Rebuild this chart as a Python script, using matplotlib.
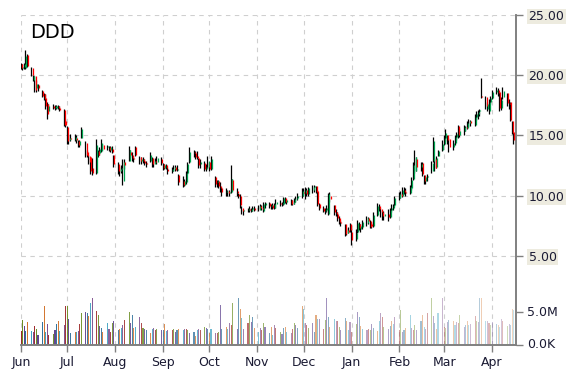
#!/usr/bin/env python3
"""DDD daily candles with volume bars, Jun 2015 - Apr 2016."""

import matplotlib
matplotlib.use("Agg")
import matplotlib.pyplot as plt
import matplotlib.dates as mdates
import matplotlib.transforms as mtransforms
from matplotlib.colors import to_rgba
import numpy as np
import pandas as pd

# trading days (business days Jun 1 2015 .. Apr 15 2016)
dates = pd.bdate_range("2015-06-01", "2016-04-15")

opens = [
    # Jun
    20.9, 20.6, 20.7, 20.6, 21.7, 20.6, 19.6, 19.9, 18.9, 19.2, 18.7, 18.4, 18.1, 17.6, 17.0, 17.4,
    17.3, 17.3, 17.4, 17.3, 17.1, 16.2,
    # Jul
    15.7, 14.6, 14.8, 14.6, 14.8, 14.5, 14.2, 14.8, 14.4, 13.6, 13.3, 13.2, 12.3, 11.9, 13.7, 13.5,
    13.7, 14.2, 14.0, 14.0, 13.8, 13.9, 13.4,
    # Aug
    12.6, 12.0, 12.2, 11.2, 12.8, 12.9, 13.6, 13.4, 13.1, 14.0, 13.2, 12.9, 13.0, 12.9, 12.7, 12.9,
    13.1, 12.6, 12.9, 12.8, 13.0,
    # Sep
    12.6, 12.3, 12.5, 12.2, 12.0, 12.2, 12.4, 12.1, 11.7, 11.2, 10.9, 11.1, 11.9, 12.8, 13.6, 13.5,
    13.3, 13.1, 12.6, 12.7, 12.2, 12.4,
    # Oct
    12.8, 12.2, 11.5, 11.1, 11.2, 10.8, 10.6, 10.3, 10.4, 10.2, 10.3, 11.3, 10.4, 10.1, 10.0, 9.0,
    8.7, 8.8, 8.9, 8.7, 8.9, 9.0,
    # Nov
    8.8, 9.1, 9.0, 8.7, 9.2, 9.4, 9.1, 9.2, 9.0, 9.3, 9.4, 9.3, 9.3, 9.8, 9.5, 9.6,
    9.3, 9.5, 9.7, 9.8, 10.0,
    # Dec
    10.3, 10.2, 10.5, 10.1, 10.5, 10.7, 10.8, 10.4, 9.3, 9.0, 8.7, 8.8, 8.5, 10.0, 9.2, 8.6,
    8.5, 8.1, 7.8, 7.6, 6.9, 7.1, 7.6,
    # Jan
    7.0, 6.4, 7.0, 7.6, 7.2, 7.4, 7.7, 8.1, 7.9, 7.6, 7.5, 8.4, 9.1, 8.9, 8.6, 8.3,
    8.5, 8.2, 8.8, 9.0, 9.2,
    # Feb
    9.8, 10.1, 10.0, 10.5, 10.3, 10.2, 10.6, 11.4, 12.0, 13.0, 12.4, 12.7, 11.7, 11.2, 11.5, 12.0,
    12.9, 13.0, 12.4, 13.3, 13.8,
    # Mar
    14.3, 14.8, 15.0, 14.7, 14.0, 14.4, 14.9, 15.8, 15.0, 15.4, 15.7, 15.6, 16.0, 16.2, 15.9, 16.5,
    16.8, 17.0, 18.3, 18.2, 17.2, 17.0, 17.8,
    # Apr
    18.1, 18.6, 18.8, 18.6, 17.3, 18.2, 18.5, 17.7, 17.8, 16.2, 15.3,
]

highs = [
    21.0, 20.9, 21.0, 22.1, 21.8, 20.7, 20.0, 19.9, 19.6, 19.3, 18.75, 18.5, 18.4, 17.75, 17.6, 17.6,
    17.5, 17.5, 17.5, 17.4, 17.2, 16.4,
    15.75, 15.0, 15.1, 15.1, 15.0, 14.6, 14.6, 15.7, 14.5, 13.8, 13.4, 13.2, 13.1, 14.7, 13.75, 14.0,
    14.7, 14.3, 14.2, 14.1, 14.1, 14.1, 13.4,
    12.8, 12.4, 12.5, 13.0, 13.0, 14.1, 13.8, 13.6, 13.3, 14.1, 13.3, 13.2, 13.2, 13.0, 12.9, 13.6,
    13.2, 13.0, 13.1, 13.3, 13.2,
    12.7, 12.6, 12.6, 12.4, 12.4, 12.5, 12.5, 12.5, 11.75, 11.6, 11.4, 12.0, 12.8, 14.0, 13.8, 13.7,
    13.7, 13.1, 13.0, 12.9, 12.6, 13.3,
    12.8, 13.3, 11.6, 11.3, 11.3, 11.1, 10.7, 10.6, 10.5, 10.5, 12.5, 11.4, 10.6, 10.2, 10.1, 9.1,
    8.9, 9.0, 9.1, 9.0, 9.1, 9.1,
    9.2, 9.3, 9.2, 9.5, 9.5, 9.5, 9.3, 9.4, 9.4, 9.7, 9.6, 9.5, 9.9, 9.9, 9.7, 9.7,
    9.6, 9.8, 10.0, 10.2, 10.6,
    10.6, 10.7, 10.6, 10.7, 10.9, 10.9, 10.8, 10.5, 9.4, 9.1, 9.0, 9.2, 10.25, 10.3, 9.25, 8.9,
    8.6, 8.3, 8.0, 7.6, 7.3, 7.4, 7.7,
    7.2, 7.2, 8.0, 7.8, 7.6, 8.0, 8.3, 8.2, 7.95, 7.8, 8.6, 9.4, 9.3, 9.0, 8.8, 8.7,
    8.9, 9.0, 9.3, 9.3, 10.0,
    10.3, 10.4, 10.7, 10.7, 10.6, 10.9, 11.5, 12.8, 13.8, 13.2, 12.8, 12.75, 11.7, 11.6, 11.8, 12.9,
    14.9, 13.1, 13.3, 13.8, 14.6,
    15.0, 15.5, 15.0, 14.8, 14.6, 15.0, 15.3, 15.9, 15.6, 15.9, 15.8, 16.2, 16.4, 16.3, 16.75, 17.0,
    17.1, 17.2, 19.8, 18.25, 17.75, 18.0, 18.3,
    18.8, 19.0, 18.9, 18.6, 18.2, 19.0, 18.5, 18.0, 17.8, 16.2, 15.3,
]

lows = [
    20.5, 20.4, 20.5, 20.5, 20.7, 19.9, 19.5, 18.6, 18.6, 18.7, 18.2, 17.9, 17.2, 16.4, 16.9, 17.2,
    17.1, 17.2, 17.2, 17.0, 15.75, 15.7,
    14.3, 14.3, 14.5, 14.5, 14.4, 14.0, 14.0, 14.8, 13.2, 13.2, 12.6, 11.75, 11.7, 11.75, 13.2, 13.4,
    13.6, 13.8, 13.8, 13.7, 13.6, 13.5, 12.4,
    11.75, 11.6, 11.9, 10.9, 12.2, 12.9, 13.2, 12.9, 12.8, 13.3, 12.6, 12.6, 12.7, 12.5, 12.4, 12.8,
    12.4, 12.4, 12.7, 12.6, 12.5,
    12.1, 12.2, 12.2, 11.8, 11.9, 12.0, 12.0, 12.0, 10.9, 10.7, 10.8, 11.0, 11.75, 12.7, 13.2, 13.0,
    13.0, 12.3, 12.3, 12.0, 12.0, 12.3,
    12.0, 12.1, 10.75, 10.7, 10.6, 10.3, 10.0, 10.0, 10.0, 10.0, 10.25, 10.4, 10.0, 9.8, 9.0, 8.5,
    8.4, 8.6, 8.6, 8.6, 8.7, 8.7,
    8.7, 8.9, 8.8, 8.6, 9.0, 9.0, 8.9, 8.9, 8.9, 9.0, 9.1, 9.1, 9.25, 9.4, 9.3, 9.2,
    9.2, 9.3, 9.5, 9.6, 9.8,
    10.0, 9.7, 10.0, 10.0, 10.2, 10.3, 10.2, 9.1, 8.8, 8.6, 8.5, 8.6, 8.4, 9.5, 8.4, 8.3,
    7.9, 7.6, 7.5, 6.6, 6.7, 6.9, 7.0,
    5.9, 6.2, 6.9, 7.1, 7.0, 7.2, 7.5, 7.6, 7.3, 7.3, 7.4, 8.3, 8.7, 8.2, 8.0, 8.0,
    7.9, 8.1, 8.6, 8.8, 9.1,
    9.6, 9.8, 9.9, 10.1, 10.0, 10.1, 10.5, 11.3, 11.9, 12.0, 12.0, 11.6, 11.0, 11.0, 11.2, 11.9,
    12.75, 12.0, 12.3, 13.25, 13.7,
    14.2, 14.5, 14.3, 13.6, 13.8, 14.2, 14.6, 14.8, 14.9, 15.0, 15.4, 15.5, 15.7, 15.8, 15.75, 16.25,
    16.4, 16.6, 18.1, 17.2, 17.0, 16.75, 17.6,
    18.0, 18.4, 18.3, 17.0, 17.1, 18.0, 17.4, 17.2, 16.2, 15.1, 14.25,
]

closes = [
    20.6, 20.7, 20.9, 21.6, 20.8, 20.0, 19.9, 18.8, 19.3, 18.9, 18.3, 18.0, 17.4, 16.8, 17.4, 17.3,
    17.4, 17.4, 17.3, 17.1, 15.9, 15.9,
    14.5, 14.8, 14.7, 14.9, 14.6, 14.2, 14.5, 15.5, 13.4, 13.3, 12.8, 12.0, 11.9, 14.2, 13.4, 13.9,
    14.4, 13.9, 14.1, 13.8, 14.0, 13.6, 12.6,
    12.0, 12.2, 12.3, 12.8, 12.5, 13.8, 13.4, 13.1, 13.0, 13.4, 12.9, 13.0, 12.9, 12.7, 12.6, 13.4,
    12.6, 12.9, 12.8, 13.1, 12.7,
    12.3, 12.5, 12.3, 12.0, 12.2, 12.4, 12.1, 12.2, 11.1, 10.9, 11.2, 11.9, 12.6, 13.6, 13.5, 13.2,
    13.1, 12.5, 12.8, 12.2, 12.4, 12.9,
    12.2, 13.0, 11.0, 11.2, 10.8, 10.6, 10.3, 10.4, 10.2, 10.3, 11.4, 10.5, 10.2, 10.0, 9.2, 8.7,
    8.8, 8.9, 8.8, 8.9, 9.0, 8.8,
    9.1, 9.0, 8.9, 9.3, 9.4, 9.1, 9.2, 9.0, 9.3, 9.5, 9.3, 9.4, 9.8, 9.5, 9.6, 9.3,
    9.5, 9.7, 9.8, 10.0, 10.4,
    10.2, 10.5, 10.1, 10.6, 10.7, 10.8, 10.3, 9.3, 9.0, 8.7, 8.8, 9.0, 10.1, 9.7, 8.6, 8.5,
    8.1, 7.8, 7.7, 6.8, 7.1, 7.0, 7.1,
    6.3, 6.9, 7.7, 7.3, 7.5, 7.8, 8.1, 7.9, 7.4, 7.5, 8.4, 9.1, 8.9, 8.6, 8.3, 8.5,
    8.2, 8.8, 9.0, 9.2, 9.8,
    10.1, 10.0, 10.5, 10.3, 10.2, 10.7, 11.3, 12.5, 13.2, 12.4, 12.6, 11.8, 11.2, 11.5, 11.6, 12.7,
    14.5, 12.3, 13.1, 13.7, 14.3,
    14.8, 15.2, 14.6, 14.0, 14.4, 14.9, 15.1, 15.0, 15.4, 15.7, 15.6, 16.0, 16.2, 16.0, 16.5, 16.8,
    16.9, 17.1, 18.2, 17.4, 17.6, 17.8, 18.1,
    18.6, 18.8, 18.5, 17.3, 17.9, 18.7, 17.7, 17.6, 16.3, 15.2, 14.6,
]

# volume in millions of shares
volumes = [
    2.1, 3.8, 2.9, 2.1, 3.5, 2.1, 2.0, 2.9, 2.4, 1.5, 3.5, 5.9, 2.0, 3.2, 1.5, 1.6,
    2.2, 3.2, 3.6, 2.1, 3.0, 5.9,
    5.9, 4.0, 1.8, 1.9, 2.0, 2.1, 3.2, 4.8, 5.0, 4.8, 4.4, 6.3, 7.1, 5.2, 4.5, 2.9,
    2.6, 2.0, 3.3, 2.4, 2.0, 3.3, 3.7,
    2.3, 2.5, 2.6, 3.0, 3.8, 5.0, 3.4, 4.6, 2.6, 2.8, 4.2, 3.3, 2.6, 2.4, 2.3, 1.8,
    2.4, 2.6, 2.3, 2.4, 2.3,
    2.3, 3.2, 2.1, 2.3, 2.3, 2.5, 2.0, 2.2, 2.5, 2.3, 2.5, 2.5, 2.3, 1.8, 2.0, 1.4,
    2.2, 2.5, 2.3, 2.8, 2.6, 2.4,
    1.8, 2.5, 1.8, 1.8, 2.0, 6.0, 2.5, 2.8, 2.5, 3.4, 3.0, 6.4, 2.5, 7.1, 5.4, 4.1,
    2.5, 3.3, 4.6, 3.5, 4.2, 2.6,
    2.0, 2.6, 2.2, 3.3, 2.8, 1.8, 2.7, 1.5, 3.1, 2.6, 1.9, 1.7, 2.6, 2.7, 2.0, 1.8,
    2.5, 3.3, 3.1, 2.6, 5.9,
    5.5, 3.4, 3.0, 2.6, 3.3, 1.9, 4.5, 4.0, 3.9, 2.5, 3.8, 7.1, 4.3, 2.7, 4.0, 3.7,
    3.6, 2.8, 2.2, 4.1, 3.6, 2.3, 3.5,
    1.9, 3.2, 5.0, 4.2, 2.9, 2.5, 2.2, 2.4, 2.2, 3.2, 2.6, 2.1, 3.7, 4.8, 4.2, 2.7,
    2.5, 2.9, 3.6, 3.2, 4.2,
    2.2, 5.3, 2.0, 2.3, 2.6, 4.6, 2.6, 2.2, 3.0, 2.2, 3.7, 4.5, 2.7, 2.4, 4.8, 7.1,
    4.4, 3.3, 2.5, 4.9, 7.1,
    2.7, 2.6, 3.5, 3.8, 3.6, 3.1, 3.5, 3.3, 4.6, 2.8, 3.1, 3.7, 3.0, 3.2, 4.4, 3.6,
    3.5, 7.1, 7.1, 3.6, 3.6, 3.4, 3.1,
    3.5, 3.2, 3.0, 2.7, 4.0, 3.6, 2.9, 3.2, 3.1, 5.4, 5.3,
]

price_ticks = [5, 10, 15, 20, 25]
volume_ticks = [0, 5]
volume_tick_labels = ["0.0K", "5.0M"]

vol_palette = ["#9e2a2b", "#6b8e23", "#5b3f8c", "#2b6e99", "#d2722a", "#3aa0c0", "#7a4a8a"]

n = min(len(dates), len(opens), len(highs), len(lows), len(closes), len(volumes))
x = mdates.date2num(dates[:n].to_pydatetime())
o = np.array(opens[:n])
h = np.array(highs[:n])
l = np.array(lows[:n])
c = np.array(closes[:n])
v = np.array(volumes[:n])

fig = plt.figure(figsize=(5.7, 3.7), dpi=100)
axv = fig.add_axes([21 / 570, 25 / 370, 495 / 570, 330 / 370])
ax = axv.twinx()

grid_kw = dict(color="#cfcfcf", linestyle=(0, (4, 4)), linewidth=0.8)
axis_col = "#808080"
text_col = "#1a1a33"

# volume bars, fading over time
alphas = np.linspace(1.0, 0.3, n)
vcols = [to_rgba(vol_palette[i % len(vol_palette)], alphas[i]) for i in range(n)]
axv.bar(x, v, width=0.7, color=vcols, linewidth=0, zorder=2)
axv.set_ylim(0, 50)
axv.set_yticks(volume_ticks)
axv.set_yticklabels([])
axv.yaxis.tick_right()

# candles
up = c >= o
ax.vlines(x - 0.3, l, h, color="black", linewidth=0.9, zorder=3)
ax.vlines(x + 0.45, o, c, colors=np.where(up, "#00a550", "#ff0000"), linewidth=0.9, zorder=4)
ax.set_ylim(-29 / 12, 25)
ax.set_yticks(price_ticks)
ax.set_yticklabels(["%.2f" % t for t in price_ticks])
for lab in ax.get_yticklabels():
    lab.set_bbox(dict(facecolor="#edebdf", edgecolor="none", pad=1.0))
for t in price_ticks:
    ax.axhline(t, zorder=1, **grid_kw)

x0 = mdates.date2num(pd.Timestamp("2015-06-01"))
x1 = mdates.date2num(pd.Timestamp("2016-04-16 12:00"))
ax.set_xlim(x0, x1)
axv.set_xlim(x0, x1)
axv.xaxis.set_major_locator(mdates.MonthLocator())
axv.xaxis.set_major_formatter(mdates.DateFormatter("%b"))
for m in axv.get_xticks():
    if x0 <= m <= x1:
        axv.axvline(m, zorder=1, **grid_kw)

# volume labels (plain, no box), a little right of the axis
vol_tr = axv.get_yaxis_transform() + mtransforms.ScaledTranslation(8 / 72, 0, fig.dpi_scale_trans)
for t, lab in zip(volume_ticks, volume_tick_labels):
    axv.text(1.0, t, lab, transform=vol_tr, ha="left", va="center", fontsize=9, color=text_col)

for a in (ax, axv):
    for s in ("left", "top"):
        a.spines[s].set_visible(False)
    for s in ("right", "bottom"):
        a.spines[s].set_color(axis_col)
        a.spines[s].set_linewidth(1.2)
    a.tick_params(colors=axis_col, labelcolor=text_col, labelsize=9, length=5, width=1)

ax.tick_params(axis="y", pad=4)
axv.tick_params(axis="x", pad=3)
ax.tick_params(axis="x", bottom=False, labelbottom=False)
axv.patch.set_visible(False)
ax.patch.set_visible(False)

fig.text(30 / 570, 1 - 32 / 370, "DDD", fontsize=14, color="black", va="center", ha="left")

fig.savefig("out.png", dpi=100, facecolor="white")
